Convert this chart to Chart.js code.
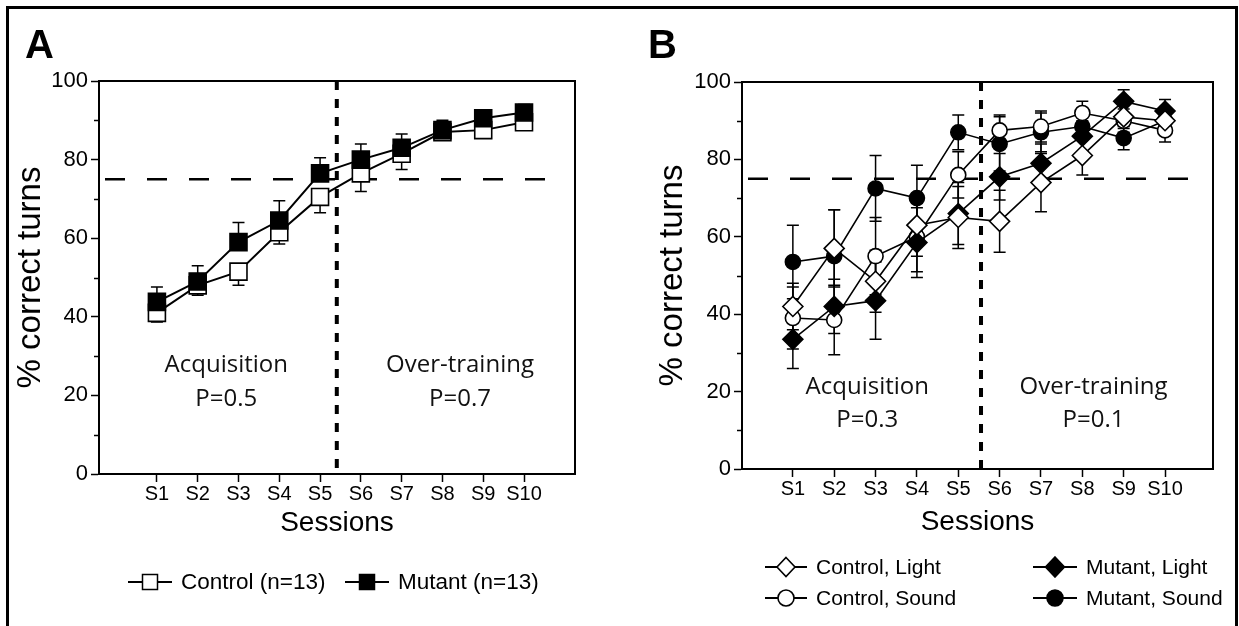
<!DOCTYPE html>
<html>
<head>
<meta charset="utf-8">
<script src="https://cdn.jsdelivr.net/npm/chart.js@4.4.1/dist/chart.umd.min.js"></script>
<style>
  body { margin: 0; background: #fff; }
  #wrap { position: relative; width: 1239px; height: 626px; overflow: hidden; font-family: 'Liberation Sans', Arial, sans-serif; }
  #frame { position: absolute; left: 6px; top: 6px; width: 1226px; height: 640px; border: 3px solid #000; }
  canvas { position: absolute; top: 0; }
  .tag { position: absolute; font-weight: bold; font-size: 40px; line-height: 40px; }
  .lg { position: absolute; display: flex; align-items: center; gap: 9px; font-size: 21px; height: 22px; white-space: nowrap; }
  .lg.big { font-size: 22.5px; }
  .lg svg { display: block; }
</style>
</head>
<body>
<div id="wrap">
  <div id="frame"></div>
  <canvas id="chartA" width="616" height="626" style="left:0"></canvas>
  <canvas id="chartB" width="622" height="626" style="left:617px"></canvas>
  <div class="tag" style="left:25px;top:24px">A</div>
  <div class="tag" style="left:648px;top:24px">B</div>

  <div class="lg big" style="left:128px;top:571px">
    <svg width="44" height="22"><line x1="0" y1="11" x2="44" y2="11" stroke="#000" stroke-width="2"/><rect x="14.5" y="3.5" width="15" height="15" fill="#fff" stroke="#000" stroke-width="1.5"/></svg>
    <span>Control (n=13)</span>
  </div>
  <div class="lg big" style="left:345px;top:571px">
    <svg width="44" height="22"><line x1="0" y1="11" x2="44" y2="11" stroke="#000" stroke-width="2"/><rect x="14.5" y="3.5" width="15" height="15" fill="#000" stroke="#000" stroke-width="1.5"/></svg>
    <span>Mutant (n=13)</span>
  </div>

  <div class="lg" style="left:765px;top:556px">
    <svg width="42" height="22"><line x1="0" y1="11" x2="42" y2="11" stroke="#000" stroke-width="2"/><polygon points="21,1.5 30,11 21,20.5 12,11" fill="#fff" stroke="#000" stroke-width="1.6"/></svg>
    <span>Control, Light</span>
  </div>
  <div class="lg" style="left:765px;top:587px">
    <svg width="42" height="22"><line x1="0" y1="11" x2="42" y2="11" stroke="#000" stroke-width="2"/><circle cx="21" cy="11" r="8" fill="#fff" stroke="#000" stroke-width="1.6"/></svg>
    <span>Control, Sound</span>
  </div>
  <div class="lg" style="left:1033px;top:556px">
    <svg width="44" height="22"><line x1="0" y1="11" x2="44" y2="11" stroke="#000" stroke-width="2"/><polygon points="22,1 31.5,11 22,21 12.5,11" fill="#000" stroke="#000" stroke-width="1.6"/></svg>
    <span>Mutant, Light</span>
  </div>
  <div class="lg" style="left:1033px;top:587px">
    <svg width="44" height="22"><line x1="0" y1="11" x2="44" y2="11" stroke="#000" stroke-width="2"/><circle cx="22" cy="11" r="8" fill="#000" stroke="#000" stroke-width="1.6"/></svg>
    <span>Mutant, Sound</span>
  </div>
</div>

<script>
// ------------------------------------------------------------
// Data (% correct turns, mean and SEM)
// ------------------------------------------------------------
const sessions = ['S1', 'S2', 'S3', 'S4', 'S5', 'S6', 'S7', 'S8', 'S9', 'S10'];
const sessionX = [1, 2, 3, 4, 5, 6, 7, 8, 9, 10];
const yTicks = [0, 20, 40, 60, 80, 100];
const yMinor = [10, 30, 50, 70, 90];

// Panel A
const controlA = [41, 48, 51.5, 61.5, 70.5, 76.5, 81.5, 87, 87.5, 89.5];
const controlAErr = [2.3, 2.5, 3.5, 3, 4, 4.6, 4, 1.5, 1.5, 1.5];
const mutantA = [43.8, 49, 59, 64.5, 76.5, 80, 83, 87.5, 90.5, 92];
const mutantAErr = [3.8, 4, 5, 5, 4, 4, 3.5, 2.5, 2, 2];

// Panel B
const controlLight = [42, 57, 48.5, 63, 65, 64, 74, 81, 91, 90];
const controlLightErr = [6, 10, 8, 8, 8, 8, 7.5, 5, 3, 3];
const controlSound = [39, 38.5, 55, 60, 76, 87.5, 88.5, 92, 90, 87.5];
const controlSoundErr = [8, 9, 10, 9, 6, 4, 4, 3, 3, 3];
const mutantLight = [33.5, 42, 43.5, 58.5, 66, 75.5, 79, 86, 95, 92.5];
const mutantLightErr = [7.5, 7, 10, 9, 8, 6, 5, 4, 3, 3];
const mutantSound = [53.5, 55, 72.5, 70, 87, 84, 87, 88.5, 85.5, 90];
const mutantSoundErr = [9.5, 12, 8.5, 8.5, 4.5, 7, 5, 3, 3, 3];

const criterion = 75;

const FONT = "'Liberation Sans', Arial, sans-serif";
const NOTE_FONT = "'Open Sans', 'Noto Sans', sans-serif";

function pts(vals) {
  return sessionX.map(function(x, i) { return { x: x, y: vals[i] }; });
}

// error bars, drawn under the markers
const errorBars = {
  id: 'errorBars',
  beforeDatasetsDraw(chart) {
    const ctx = chart.ctx, y = chart.scales.y;
    ctx.save();
    ctx.strokeStyle = '#000';
    ctx.lineWidth = 1.5;
    chart.data.datasets.forEach(function(ds, i) {
      if (!ds.err) return;
      const meta = chart.getDatasetMeta(i);
      meta.data.forEach(function(pt, j) {
        const v = ds.data[j].y, e = ds.err[j];
        const up = ds.errDir !== 'down', dn = ds.errDir !== 'up';
        const top = y.getPixelForValue(up ? v + e : v);
        const bot = y.getPixelForValue(dn ? v - e : v);
        ctx.beginPath();
        ctx.moveTo(pt.x, top); ctx.lineTo(pt.x, bot);
        if (up) { ctx.moveTo(pt.x - 6, top); ctx.lineTo(pt.x + 6, top); }
        if (dn) { ctx.moveTo(pt.x - 6, bot); ctx.lineTo(pt.x + 6, bot); }
        ctx.stroke();
      });
    });
    ctx.restore();
  }
};

// 75% criterion line + acquisition / over-training divider
const refLines = {
  id: 'refLines',
  beforeDatasetsDraw(chart, args, opts) {
    const ctx = chart.ctx, a = chart.chartArea;
    const x = chart.scales.x, y = chart.scales.y;
    ctx.save();
    ctx.strokeStyle = '#000';
    ctx.lineWidth = 2.5;
    ctx.setLineDash([20, 22]);
    const yy = y.getPixelForValue(opts.criterion);
    ctx.beginPath(); ctx.moveTo(a.left + 6, yy); ctx.lineTo(a.right - opts.hEnd, yy); ctx.stroke();
    ctx.lineWidth = 4;
    ctx.setLineDash([9, 9]);
    const xx = x.getPixelForValue(opts.phase);
    ctx.beginPath(); ctx.moveTo(xx, a.top); ctx.lineTo(xx, a.bottom); ctx.stroke();
    ctx.restore();
  }
};

// top/right frame and minor y ticks
const frame = {
  id: 'frame',
  afterDraw(chart) {
    const ctx = chart.ctx, a = chart.chartArea, y = chart.scales.y;
    ctx.save();
    ctx.strokeStyle = '#000';
    ctx.lineWidth = 2;
    ctx.beginPath();
    ctx.moveTo(a.left, a.top); ctx.lineTo(a.right, a.top); ctx.lineTo(a.right, a.bottom);
    ctx.stroke();
    ctx.lineWidth = 1.5;
    yMinor.forEach(function(v) {
      const p = Math.round(y.getPixelForValue(v)) + 0.5;
      ctx.beginPath(); ctx.moveTo(a.left - 5, p); ctx.lineTo(a.left, p); ctx.stroke();
    });
    ctx.restore();
  }
};

// phase labels inside the plot
const notes = {
  id: 'notes',
  afterDatasetsDraw(chart, args, opts) {
    const ctx = chart.ctx, x = chart.scales.x, y = chart.scales.y;
    ctx.save();
    ctx.fillStyle = '#111';
    ctx.font = opts.size + 'px ' + NOTE_FONT;
    ctx.textAlign = 'center';
    ctx.textBaseline = 'middle';
    opts.items.forEach(function(t) {
      ctx.fillText(t.text, x.getPixelForValue(t.x), y.getPixelForValue(t.y));
    });
    ctx.restore();
  }
};

function series(label, vals, err, style, fill, radius, extra) {
  return Object.assign({
    label: label,
    data: pts(vals),
    err: err,
    borderColor: '#000',
    borderWidth: 2,
    pointStyle: style,
    pointRadius: radius,
    pointBackgroundColor: fill,
    pointBorderColor: '#000',
    pointBorderWidth: 1.6,
    tension: 0
  }, extra || {});
}

function makePanel(id, datasets, geo) {
  return new Chart(document.getElementById(id), {
    type: 'line',
    data: { datasets: datasets },
    options: {
      responsive: false,
      animation: false,
      layout: { padding: { top: geo.top, right: geo.right, left: 0, bottom: 0 } },
      plugins: {
        legend: { display: false },
        tooltip: { enabled: false },
        refLines: { criterion: criterion, phase: geo.phase, hEnd: geo.hEnd },
        notes: { size: 24, items: geo.notes }
      },
      scales: {
        x: {
          type: 'linear',
          min: geo.xmin,
          max: geo.xmax,
          afterFit: function(s) { s.height = geo.xh; },
          afterBuildTicks: function(s) { s.ticks = sessionX.map(function(v) { return { value: v }; }); },
          ticks: {
            callback: function(v) { return sessions[sessionX.indexOf(v)]; },
            color: '#000', font: { family: FONT, size: 20 }, padding: 0,
            maxRotation: 0, autoSkip: false
          },
          grid: { drawOnChartArea: false, tickLength: 8, tickColor: '#000', tickWidth: 1.5 },
          border: { color: '#000', width: 2 },
          title: {
            display: true, text: 'Sessions', color: '#000',
            font: { family: FONT, size: 28 }, padding: { top: 0, bottom: geo.xtPad }
          }
        },
        y: {
          min: 0,
          max: 100,
          afterFit: function(s) { s.width = geo.yw; },
          afterBuildTicks: function(s) { s.ticks = yTicks.map(function(v) { return { value: v }; }); },
          ticks: { color: '#000', font: { family: FONT, size: 22 }, padding: 3 },
          grid: { drawOnChartArea: false, tickLength: 8, tickColor: '#000', tickWidth: 1.5 },
          border: { color: '#000', width: 2 },
          title: {
            display: true, text: '% correct turns', color: '#000',
            font: { family: FONT, size: 33 }, padding: { top: geo.ytPad, bottom: 0 }
          }
        }
      }
    },
    plugins: [errorBars, refLines, frame, notes]
  });
}

// ------------------------------------------------------------
// Panel A
// ------------------------------------------------------------
makePanel('chartA', [
  series('Mutant (n=13)', mutantA, mutantAErr, 'rect', '#000', 12, { errDir: 'up', order: 0 }),
  series('Control (n=13)', controlA, controlAErr, 'rect', '#fff', 12, { errDir: 'down', order: 1 })
], {
  top: 81, right: 41, yw: 99, xh: 152,
  xmin: -0.42, xmax: 11.25, phase: 5.41, hEnd: 22,
  xtPad: 86, ytPad: 11,
  notes: [
    { text: 'Acquisition', x: 2.7, y: 27.7 },
    { text: 'P=0.5', x: 2.7, y: 19 },
    { text: 'Over-training', x: 8.43, y: 27.7 },
    { text: 'P=0.7', x: 8.43, y: 19 }
  ]
});

// ------------------------------------------------------------
// Panel B
// ------------------------------------------------------------
makePanel('chartB', [
  series('Control, Light', controlLight, controlLightErr, 'rectRot', '#fff', 10, { order: 0, borderWidth: 1.6 }),
  series('Mutant, Light', mutantLight, mutantLightErr, 'rectRot', '#000', 10, { order: 1, borderWidth: 1.6 }),
  series('Control, Sound', controlSound, controlSoundErr, 'circle', '#fff', 7.5, { order: 2, borderWidth: 1.6 }),
  series('Mutant, Sound', mutantSound, mutantSoundErr, 'circle', '#000', 7.5, { order: 3, borderWidth: 1.6 })
], {
  top: 82, right: 26, yw: 125, xh: 157,
  xmin: -0.23, xmax: 11.16, phase: 5.55, hEnd: 18,
  xtPad: 87, ytPad: 36,
  notes: [
    { text: 'Acquisition', x: 2.8, y: 21.2 },
    { text: 'P=0.3', x: 2.8, y: 12.6 },
    { text: 'Over-training', x: 8.27, y: 21.2 },
    { text: 'P=0.1', x: 8.27, y: 12.6 }
  ]
});
</script>
</body>
</html>
